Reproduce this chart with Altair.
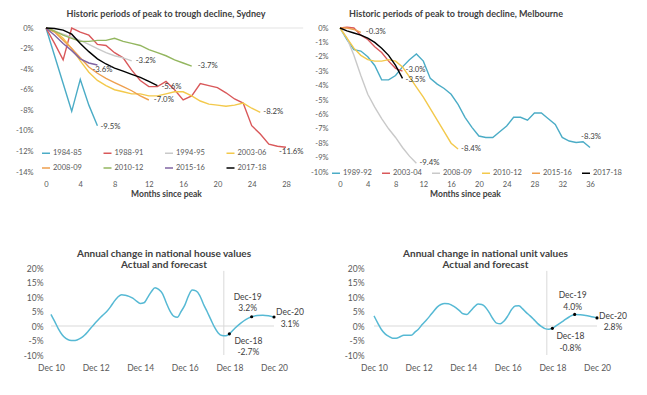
import altair as alt
import pandas as pd

FONT = "Lato"
AXIS_GREY = "#595959"
DARK = "#404040"

# ---------------- Sydney: peak-to-trough declines (% from peak, by month) ----------------
syd_series = ["1984-85", "1988-91", "1994-95", "2003-06", "2008-09", "2010-12", "2015-16", "2017-18"]
syd_1984_85 = [0, -2.7, -5.4, -8.1, -5.0, -7.5, -9.5]
syd_1988_91 = [0, -1.5, -3.1, 0.0, -0.4, -0.7, -1.6, -1.7, -2.4, -2.9, -4.1, -5.1, -5.7, -5.7, -5.2,
               -6.0, -7.0, -6.6, -5.4, -5.6, -5.8, -6.3, -6.9, -7.3, -9.5, -10.3, -11.3, -11.5, -11.6]
syd_1994_95 = [0, -0.3, -0.6, -0.9, -1.2, -1.6, -2.0, -2.4, -2.7, -2.9, -3.2]
syd_2003_06 = [0, -0.3, -1.0, -2.0, -3.2, -4.3, -5.1, -5.6, -6.0, -6.2, -6.4, -6.4, -6.6, -6.6, -6.4,
               -6.2, -6.2, -6.6, -7.1, -7.4, -7.5, -7.6, -7.5, -7.3, -7.8, -8.2]
syd_2008_09 = [0, -0.4, -1.2, -2.0, -2.9, -3.8, -4.4, -4.9, -5.3, -5.7, -6.1, -6.6, -7.0]
syd_2010_12 = [0, -0.3, -0.7, -1.0, -1.3, -1.3, -1.2, -1.2, -1.0, -1.3, -1.5, -1.7, -2.1, -2.4, -2.7,
               -3.1, -3.4, -3.7]
syd_2015_16 = [0, -0.7, -1.5, -2.2, -3.0, -3.4, -3.6]
syd_2017_18 = [0, -0.05, -0.2, -0.6, -1.5, -2.3, -3.0, -3.5, -3.9, -4.2, -4.5, -4.8, -5.2, -5.6]
syd_values = dict(zip(syd_series, [syd_1984_85, syd_1988_91, syd_1994_95, syd_2003_06,
                                   syd_2008_09, syd_2010_12, syd_2015_16, syd_2017_18]))
syd_colors = ["#4BACC6", "#D9585A", "#C9C9C9", "#F3C94B", "#EE9F4E", "#93B65F", "#8064A2", "#000000"]
syd_x_ticks = [0, 4, 8, 12, 16, 20, 24, 28]
syd_y_ticks = [-14, -12, -10, -8, -6, -4, -2, 0]

# ---------------- Melbourne ----------------
mel_series = ["1989-92", "2003-04", "2008-09", "2010-12", "2015-16", "2017-18"]
mel_1989_92 = [0, -0.8, -1.5, -1.6, -2.0, -2.6, -3.6, -3.6, -3.3, -2.7, -2.2, -1.8, -2.3, -3.5, -3.9,
               -4.2, -4.6, -5.3, -6.2, -6.9, -7.5, -7.6, -7.6, -7.2, -6.8, -6.2, -6.2, -6.4, -5.9,
               -5.9, -6.3, -6.7, -7.6, -7.85, -7.95, -7.9, -8.3]
mel_2003_04 = [0, 0.05, 0.0, -0.5, -0.8, -1.3, -1.7, -2.3, -2.8, -3.0]
mel_2008_09 = [0, -0.7, -1.9, -3.3, -4.6, -5.5, -6.3, -7.0, -7.6, -8.3, -8.9, -9.4]
mel_2010_12 = [0, -0.7, -1.4, -1.9, -2.2, -2.3, -2.3, -2.2, -2.3, -2.7, -3.4, -4.1, -4.8, -5.6, -6.4,
               -7.2, -8.0, -8.4]
mel_2015_16 = [0, 0.0, -0.1, -0.3]
mel_2017_18 = [0, -0.2, -0.35, -0.5, -0.7, -1.0, -1.4, -1.9, -2.6, -3.5]
mel_values = dict(zip(mel_series, [mel_1989_92, mel_2003_04, mel_2008_09, mel_2010_12,
                                   mel_2015_16, mel_2017_18]))
mel_colors = ["#4BACC6", "#D9585A", "#C9C9C9", "#F3C94B", "#EE9F4E", "#000000"]
mel_x_ticks = [0, 4, 8, 12, 16, 20, 24, 28, 32, 36]
mel_y_ticks = [-10, -9, -8, -7, -6, -5, -4, -3, -2, -1, 0]

# ---------------- Annual change, national house / unit values ----------------
annual_dates = ([d.strftime("%Y-%m-%d") for d in pd.date_range("2010-12-01", "2018-12-01", freq="2MS")]
                + [d.strftime("%Y-%m-%d") for d in pd.date_range("2019-03-01", "2020-12-01", freq="3MS")])
house_values = [4.0, 1.5, -1.0, -3.0, -4.3, -4.9, -5.0, -4.8, -4.2, -3.2, -1.8, -0.3,
                1.2, 2.6, 3.8, 5.0, 6.6, 8.5, 10.0, 10.8, 10.6, 10.2, 9.6, 8.6,
                7.8, 8.0, 9.8, 11.8, 13.2, 12.6, 11.2, 8.0, 5.2, 3.4, 3.0, 5.0,
                7.2, 10.5, 12.4, 12.1, 10.6, 7.6, 5.0, 2.2, -0.4, -2.4, -3.3, -3.4,
                -2.7, -0.8, 0.9, 2.3, 3.2, 3.6, 3.7, 3.5, 3.1]
unit_values = [3.5, 1.0, -1.2, -2.7, -3.6, -4.2, -4.2, -3.7, -3.2, -3.2, -3.2, -2.1,
               -1.0, 0.6, 1.9, 3.4, 5.0, 6.5, 7.4, 7.8, 7.7, 7.1, 6.3, 5.3,
               4.2, 4.0, 5.2, 6.6, 7.6, 7.4, 6.5, 4.6, 2.5, 1.0, 0.8, 1.7,
               3.5, 5.7, 6.9, 7.0, 5.9, 4.6, 3.5, 2.2, 0.9, -0.1, -0.9, -1.1,
               -0.8, 0.5, 1.8, 3.1, 4.0, 3.9, 3.6, 3.2, 2.8]
marker_names = ["Dec-18", "Dec-19", "Dec-20"]
marker_dates = ["2018-12-01", "2019-12-01", "2020-12-01"]
house_marker_values = [-2.7, 3.2, 3.1]
unit_marker_values = [-0.8, 4.0, 2.8]
annual_y_ticks = [-10, -5, 0, 5, 10, 15, 20]
annual_tick_years = [2010, 2012, 2014, 2016, 2018, 2020]
forecast_start = "2018-09-01"
series_start = "2010-12-01"
series_end = "2020-12-01"


def long_frame(series, values):
    rows = []
    for s in series:
        for m, v in enumerate(values[s]):
            rows.append({"series": s, "month": m, "value": v})
    return pd.DataFrame(rows)


def end_frame(series, values):
    return pd.DataFrame([{"series": s, "month": len(values[s]) - 1, "value": values[s][-1],
                          "label": f"{values[s][-1]:.1f}%"} for s in series])


def decline_panel(series, values, colors, offsets, x_max, x_ticks, y_min, y_ticks, width,
                  title, title_dx, legend, y_label_pad, rule_end=None):
    lines_df = long_frame(series, values)
    ends_df = end_frame(series, values)
    x = alt.X("month:Q", title="Months since peak",
              scale=alt.Scale(domain=[0, x_max], nice=False, zero=False),
              axis=alt.Axis(values=x_ticks, title="Months since peak", labelFontSize=7.5,
                            labelPadding=8, labelFlush=False, titleFontSize=8.5,
                            titleFontWeight="bold", titleColor=DARK, titlePadding=2))
    y = alt.Y("value:Q", title=None,
              scale=alt.Scale(domain=[y_min, 0], nice=False, zero=False),
              axis=alt.Axis(values=y_ticks, labelExpr="datum.value + '%'", title=None,
                            labelFontSize=7.5, labelPadding=y_label_pad, labelFlush=False))
    layers = []
    if rule_end is not None:
        rule_df = pd.DataFrame({"month": [0], "month_end": [rule_end], "value": [0]})
        layers.append(alt.Chart(rule_df).mark_rule(color="#E3E3E3", strokeWidth=1).encode(
            x=x, x2="month_end:Q", y=y))
    layers.append(alt.Chart(lines_df).mark_line(strokeWidth=1.4).encode(
        x=x, y=y,
        color=alt.Color("series:N", scale=alt.Scale(domain=series, range=colors),
                        sort=series, legend=legend),
        order="month:Q"))
    for s in series:
        dx, dy = offsets[s]
        layers.append(alt.Chart(ends_df).transform_filter(alt.datum.series == s).mark_text(
            align="left", baseline="middle", dx=dx, dy=dy, font=FONT, fontSize=7.8,
            color=DARK).encode(x=x, y=y, text="label:N"))
    return alt.layer(*layers).properties(
        width=width, height=144,
        title=alt.TitleParams(title, fontSize=9, fontWeight="bold", color=DARK, font=FONT,
                              anchor="middle", offset=5, dx=title_dx))


def annual_panel(title, values, marker_values, width, domain_start, title_dx, y_label_pad, ann_offsets):
    line_df = pd.DataFrame({"date": annual_dates, "value": values})
    mk_df = pd.DataFrame({"date": marker_dates, "value": marker_values, "name": marker_names,
                          "label": [f"{n}\n{v:.1f}%" for n, v in zip(marker_names, marker_values)]})
    x = alt.X("date:T", title=None,
              scale=alt.Scale(type="utc", domain=[domain_start, series_end], nice=False),
              axis=alt.Axis(values=[alt.DateTime(year=yr, month=12, date=1, utc=True)
                                    for yr in annual_tick_years],
                            labelExpr="utcFormat(datum.value, '%b %y')", title=None,
                            labelFontSize=8.5, labelPadding=8, labelFlush=False))
    y = alt.Y("value:Q", title=None,
              scale=alt.Scale(domain=[-10, 20], nice=False, zero=False),
              axis=alt.Axis(values=annual_y_ticks, labelExpr="datum.value + '%'", title=None,
                            labelFontSize=8.5, labelPadding=y_label_pad, labelFlush=False))
    zero_df = pd.DataFrame({"date": [series_start], "date_end": [series_end], "value": [0]})
    zero = alt.Chart(zero_df).mark_rule(color="#D9D9D9", strokeWidth=1).encode(
        x=x, x2="date_end:T", y=y)
    fc_df = pd.DataFrame({"date": [forecast_start], "value": [19], "value_end": [-10]})
    fc = alt.Chart(fc_df).mark_rule(color="#D9D9D9", strokeWidth=1).encode(
        x=x, y=y, y2="value_end:Q")
    line = alt.Chart(line_df).mark_line(color="#56B9D4", strokeWidth=1.5,
                                        interpolate="monotone").encode(x=x, y=y)
    pts = alt.Chart(mk_df).mark_point(filled=True, color="#000000", size=10, opacity=1).encode(x=x, y=y)
    layers = [zero, fc, line, pts]
    for name in marker_names:
        dx, dy = ann_offsets[name]
        layers.append(alt.Chart(mk_df).transform_filter(alt.datum.name == name).mark_text(
            align="center", baseline="top", dx=dx, dy=dy, lineBreak="\n", lineHeight=11.5,
            font=FONT, fontSize=8.5, color=DARK).encode(x=x, y=y, text="label:N"))
    return alt.layer(*layers).properties(
        width=width, height=87,
        title=alt.TitleParams(title, fontSize=10, fontWeight="bold", color=DARK, font=FONT,
                              anchor="middle", offset=-6, dx=title_dx, lineHeight=11.5))


syd_offsets = {"1984-85": (3, 1), "1988-91": (-7, 5), "1994-95": (4, 0), "2003-06": (3, 0),
               "2008-09": (5, 0), "2010-12": (6, 0), "2015-16": (-5, 5), "2017-18": (4, 1)}
mel_offsets = {"1989-92": (-9, -11), "2003-04": (3, -1), "2008-09": (3, 0), "2010-12": (3, 0),
               "2015-16": (5, 0), "2017-18": (3, 1.5)}

syd_legend = alt.Legend(orient="none", legendX=-5, legendY=120, columns=4, direction="horizontal",
                        symbolType="stroke", symbolSize=64, symbolStrokeWidth=1.5,
                        labelFontSize=7.5, labelFont=FONT, labelColor=AXIS_GREY, labelOffset=2,
                        columnPadding=18.5, rowPadding=6, padding=0, title=None)
mel_legend = alt.Legend(orient="none", legendX=-9, legendY=140, columns=6, direction="horizontal",
                        symbolType="stroke", symbolSize=64, symbolStrokeWidth=1.5,
                        labelFontSize=7.5, labelFont=FONT, labelColor=AXIS_GREY, labelOffset=2,
                        columnPadding=7, padding=0, title=None)

sydney = decline_panel(syd_series, syd_values, syd_colors, syd_offsets, 28, syd_x_ticks, -14,
                       syd_y_ticks, 240, "Historic periods of peak to trough decline, Sydney", 0,
                       syd_legend, 13, rule_end=30)
melbourne = decline_panel(mel_series, mel_values, mel_colors, mel_offsets, 36, mel_x_ticks, -10,
                          mel_y_ticks, 250, "Historic periods of peak to trough decline, Melbourne", -9,
                          mel_legend, 12)

house_ann = {"Dec-18": (19, 3), "Dec-19": (-4, -24), "Dec-20": (16, -9)}
unit_ann = {"Dec-18": (18, 4), "Dec-19": (-2, -23), "Dec-20": (16, -6)}

house = annual_panel(["Annual change in national house values", "Actual and forecast"],
                     house_values, house_marker_values, 228, "2010-09-10", 4, 3, house_ann)
unit = annual_panel(["Annual change in national unit values", "Actual and forecast"],
                    unit_values, unit_marker_values, 223, series_start, 0, 10, unit_ann)

top_row = alt.hconcat(sydney, melbourne, spacing=54, bounds="flush").resolve_scale(color="independent")
bottom_row = alt.hconcat(house, unit, spacing=100, bounds="flush")

chart = alt.vconcat(top_row, bottom_row, spacing=240, bounds="flush").resolve_scale(
    color="independent"
).properties(
    padding={"left": 7, "top": 2, "right": 5, "bottom": 5}
).configure_view(stroke=None).configure_axis(
    labelFont=FONT, titleFont=FONT, labelColor=AXIS_GREY, domain=False, ticks=False, grid=False
)

chart.save("out.html", embed_options={"renderer": "svg", "actions": False})
